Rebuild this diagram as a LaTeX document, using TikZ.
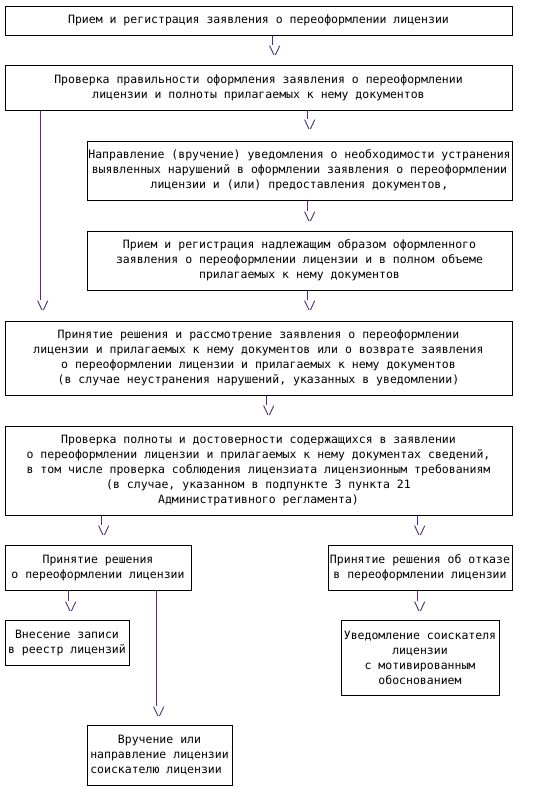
\documentclass[tikz,border=0pt]{standalone}
\usepackage{fontspec}
\setmonofont{DejaVu Sans Mono}
\definecolor{linec}{RGB}{100,30,160}
\definecolor{arrc}{RGB}{60,30,110}
\newcommand\mybox[6]{\node[box, minimum width={(#4-#2)*1pt}, minimum height={(#5-#3)*1pt}] (#1) at ({(#2+#4)/2},{(#3+#5)/2}) {#6};}
\newcommand\vhead{\textbackslash\kern-1.2pt/}
\begin{document}
\begin{tikzpicture}[x=1pt,y=-1pt,
  txt/.style={font=\ttfamily\fontsize{11.5}{15}\selectfont},
  box/.style={txt, draw=black, line width=1pt, inner sep=0pt, align=center, text=black},
  arr/.style={txt, inner sep=0.8pt, text=arrc},
  conn/.style={draw=linec, line width=1pt}]
\useasboundingbox (0,0) rectangle (534,793);
\mybox{b1}{5}{6}{512}{35}{Прием и регистрация заявления о переоформлении лицензии}
\mybox{b2}{5}{65}{512}{110}{Проверка правильности оформления заявления о переоформлении\\лицензии и полноты прилагаемых к нему документов}
\mybox{b3}{87}{141}{512}{200}{Направление (вручение) уведомления о необходимости устранения\\выявленных нарушений в оформлении заявления о переоформлении\\лицензии и (или) предоставления документов,}
\mybox{b4}{87}{231}{512}{290}{Прием и регистрация надлежащим образом оформленного\\заявления о переоформлении лицензии и в полном объеме\\прилагаемых к нему документов}
\mybox{b5}{5}{321}{512}{395}{Принятие решения и рассмотрение заявления о переоформлении\\лицензии и прилагаемых к нему документов или о возврате заявления\\о переоформлении лицензии и прилагаемых к нему документов\\(в случае неустранения нарушений, указанных в уведомлении)}
\mybox{b6}{5}{426}{512}{515}{Проверка полноты и достоверности содержащихся в заявлении\\о переоформлении лицензии и прилагаемых к нему документах сведений,\\в том числе проверка соблюдения лицензиата лицензионным требованиям\\(в случае, указанном в подпункте 3 пункта 21\\Административного регламента)}
\mybox{b7}{5}{545}{191}{590}{Принятие решения\\о переоформлении лицензии}
\mybox{b8}{328}{545}{512}{590}{Принятие решения об отказе\\в переоформлении лицензии}
\mybox{b9}{5}{620}{129}{665}{Внесение записи\\в реестр лицензий}
\mybox{b10}{341}{620}{499}{695}{Уведомление соискателя\\лицензии\\с мотивированным\\обоснованием}
\mybox{b11}{87}{725}{232}{785}{Вручение или\\направление лицензии\\соискателю лицензии\hphantom{x}}
% arrow heads
\node[arr] (a1) at (275,51) {\vhead};
\node[arr] (a2) at (310,125) {\vhead};
\node[arr] (a3) at (310,217) {\vhead};
\node[arr] (a4) at (310,306) {\vhead};
\node[arr] (aL) at (43,306) {\vhead};
\node[arr] (a5) at (269,411) {\vhead};
\node[arr] (a6) at (104,531) {\vhead};
\node[arr] (a6r) at (420,531) {\vhead};
\node[arr] (a7) at (71,607) {\vhead};
\node[arr] (a7b) at (159,712) {\vhead};
\node[arr] (a8) at (420,607) {\vhead};
% connectors
\foreach \b/\a in {b1/a1, b2/a2, b3/a3, b4/a4, b2/aL, b5/a5, b6/a6, b6/a6r, b7/a7, b7/a7b, b8/a8}
  \draw[conn] ([xshift=-3pt]\b.south -| \a.north) -- ([xshift=-3pt]\a.north);
\end{tikzpicture}
\end{document}
